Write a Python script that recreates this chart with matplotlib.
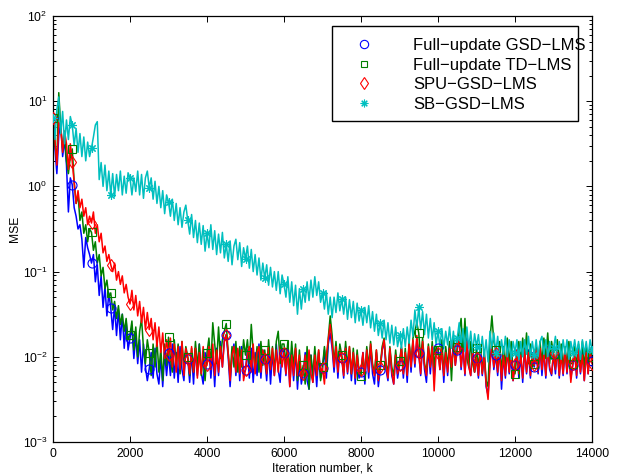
import numpy as np
import matplotlib
matplotlib.use("Agg")
import matplotlib.pyplot as plt
from matplotlib.lines import Line2D
from matplotlib.patches import Rectangle
from matplotlib.ticker import LogLocator, NullFormatter, FixedLocator

# ---------------- data (log10 of MSE, every 50 iterations) ----------------
iterations = np.arange(0, 14001, 50)

gsd_full_log10 = [
    0.80, 0.45, 0.15, 0.60, 0.75, 0.35, 0.55, 0.25, -0.30, 0.10, 0.02, -0.25, -0.35, -0.50, -0.45, -0.62, -0.95, -0.60, -0.72, -0.80,
    -0.90, -0.80, -1.12, -0.92, -1.28, -1.05, -1.42, -1.18, -1.52, -1.25, -1.43, -1.68, -1.40, -1.75, -1.45, -1.80, -1.50, -1.90, -1.58, -1.92,
    -1.78, -1.65, -2.02, -1.75, -2.08, -1.80, -2.18, -1.85, -2.12, -2.28, -2.14, -1.95, -2.25, -1.90, -2.20, -2.32, -2.00, -2.35, -1.95, -2.22,
    -1.96, -2.22, -1.85, -2.25, -1.95, -2.30, -1.88, -2.15, -2.28, -1.92, -2.02, -2.30, -1.95, -2.32, -1.90, -2.22, -1.85, -2.18, -2.32, -1.95,
    -2.08, -1.88, -2.25, -1.95, -2.35, -1.90, -2.22, -1.82, -2.12, -1.80, -1.74, -2.00, -2.35, -1.98, -1.85, -2.22, -1.92, -2.28, -1.88, -2.20,
    -2.15, -1.92, -2.25, -1.90, -2.30, -1.95, -2.22, -1.85, -2.25, -1.92, -2.02, -2.28, -1.90, -2.32, -1.95, -2.22, -1.85, -2.15, -2.30, -1.90,
    -1.95, -2.22, -1.90, -2.35, -1.95, -2.28, -1.92, -2.38, -2.02, -2.32, -2.19, -1.95, -2.28, -2.38, -1.98, -2.30, -2.02, -2.35, -1.95, -2.25,
    -2.13, -1.92, -2.25, -1.85, -1.72, -1.90, -2.18, -1.88, -2.25, -1.90, -2.01, -2.25, -1.88, -2.20, -1.92, -2.28, -1.95, -2.32, -1.98, -2.25,
    -2.18, -1.95, -2.32, -1.92, -2.25, -1.88, -2.20, -2.32, -1.95, -2.35, -2.15, -1.92, -1.82, -2.15, -2.28, -1.92, -2.22, -2.32, -1.98, -2.25,
    -2.10, -1.90, -2.25, -1.95, -2.30, -1.85, -2.18, -1.82, -2.12, -1.80, -1.96, -2.22, -1.85, -2.15, -2.30, -1.90, -2.20, -1.88, -2.25, -1.92,
    -1.90, -2.15, -1.88, -2.30, -1.92, -2.22, -1.85, -2.15, -1.82, -2.10, -1.92, -1.75, -2.15, -1.88, -2.22, -1.78, -2.10, -2.22, -1.88, -2.18,
    -2.01, -2.25, -1.90, -2.22, -1.95, -2.35, -2.45, -2.05, -1.85, -2.15, -1.98, -2.22, -1.88, -2.38, -1.98, -2.25, -1.90, -2.20, -1.92, -2.28,
    -2.10, -1.92, -2.25, -1.95, -2.30, -1.90, -2.20, -1.92, -2.25, -1.95, -2.12, -1.92, -2.20, -1.88, -2.22, -1.92, -2.25, -1.88, -2.15, -2.22,
    -1.97, -2.20, -1.88, -2.25, -1.92, -2.22, -1.90, -2.20, -1.92, -2.25, -2.10, -1.92, -2.25, -1.90, -2.20, -1.95, -2.28, -1.92, -2.20, -1.90,
    -2.05,
]

td_full_log10 = [
    0.80, 0.50, 0.30, 1.10, 0.70, 0.45, 0.60, 0.30, 0.15, 0.35, 0.44, 0.05, -0.20, -0.10, -0.40, -0.30, -0.55, -0.45, -0.65, -0.50,
    -0.54, -0.75, -0.65, -0.90, -0.80, -1.05, -0.95, -1.20, -1.10, -1.30, -1.25, -1.45, -1.35, -1.55, -1.40, -1.62, -1.50, -1.70, -1.55, -1.80,
    -1.74, -1.58, -1.92, -1.65, -2.00, -1.70, -1.55, -1.90, -2.08, -1.80, -1.95, -2.22, -1.85, -2.12, -1.80, -2.18, -1.90, -2.28, -1.85, -2.10,
    -1.77, -2.02, -2.18, -1.80, -2.08, -1.85, -2.20, -1.82, -2.12, -1.88, -2.00, -2.22, -1.90, -2.18, -1.82, -2.12, -1.85, -2.22, -1.98, -2.28,
    -1.95, -1.78, -2.12, -1.60, -1.85, -2.08, -1.65, -2.02, -1.80, -1.70, -1.61, -1.95, -2.22, -1.88, -2.12, -1.82, -2.18, -1.88, -2.12, -1.80,
    -1.98, -1.80, -2.08, -1.62, -1.95, -2.12, -1.88, -2.18, -1.82, -2.10, -1.92, -2.18, -1.80, -2.12, -1.88, -2.18, -1.82, -1.70, -2.08, -1.85,
    -1.85, -2.08, -1.82, -2.18, -1.82, -2.12, -1.85, -2.28, -1.92, -2.22, -2.10, -2.32, -1.88, -2.38, -1.98, -2.22, -1.88, -2.18, -1.92, -2.28,
    -2.12, -1.88, -2.12, -1.78, -1.52, -1.75, -2.08, -1.82, -2.12, -1.85, -1.98, -2.18, -1.82, -2.12, -1.88, -2.20, -1.90, -2.22, -1.92, -2.18,
    -2.22, -1.98, -2.22, -1.88, -2.12, -1.82, -2.08, -2.20, -1.92, -2.22, -2.10, -1.88, -1.78, -2.08, -2.18, -1.88, -2.12, -2.22, -1.92, -2.15,
    -2.05, -1.88, -2.18, -1.90, -2.20, -1.82, -2.10, -1.78, -1.70, -1.60, -1.72, -2.02, -1.78, -2.08, -2.18, -1.85, -2.10, -1.82, -2.12, -1.88,
    -1.92, -2.08, -1.80, -2.20, -1.88, -2.12, -1.82, -2.28, -1.80, -2.02, -1.88, -1.70, -1.55, -1.95, -1.55, -2.02, -2.12, -1.82, -2.08, -2.18,
    -1.90, -2.12, -1.88, -2.18, -1.92, -2.28, -2.35, -1.80, -1.52, -1.82, -1.92, -2.12, -1.82, -2.18, -1.88, -2.12, -1.78, -2.08, -1.82, -2.18,
    -2.20, -1.98, -1.82, -2.08, -1.78, -2.02, -1.72, -2.08, -1.85, -2.12, -2.08, -1.88, -2.12, -1.82, -2.08, -1.78, -2.02, -1.72, -2.08, -1.82,
    -1.97, -2.12, -1.80, -2.08, -1.85, -2.15, -1.88, -2.12, -1.82, -2.08, -2.08, -1.88, -2.12, -1.85, -2.10, -1.82, -2.12, -1.88, -2.15, -1.90,
    -2.00,
]

spu_gsd_log10 = [
    0.80, 0.55, 0.25, 0.75, 0.70, 0.40, 0.65, 0.50, 0.20, 0.50, 0.29, 0.05, -0.20, -0.05, -0.25, -0.15, -0.35, -0.25, -0.45, -0.35,
    -0.43, -0.30, -0.55, -0.45, -0.65, -0.55, -0.78, -0.70, -0.88, -0.80, -0.92, -1.00, -0.90, -1.10, -1.00, -1.15, -1.05, -1.25, -1.15, -1.30,
    -1.38, -1.22, -1.45, -1.28, -1.52, -1.35, -1.60, -1.42, -1.68, -1.48, -1.68, -1.55, -1.80, -1.60, -1.88, -1.65, -1.95, -1.72, -2.02, -1.80,
    -1.98, -1.78, -2.12, -1.85, -2.18, -1.88, -2.15, -1.82, -2.22, -1.90, -2.02, -2.20, -1.88, -2.18, -1.90, -2.25, -1.95, -2.20, -1.88, -2.12,
    -2.10, -1.88, -2.15, -1.85, -2.22, -1.92, -2.18, -1.88, -2.12, -1.82, -1.74, -1.95, -2.28, -1.98, -1.88, -2.18, -1.90, -2.20, -1.92, -2.28,
    -2.15, -1.98, -1.88, -2.18, -1.85, -2.20, -1.95, -1.88, -2.18, -1.92, -2.02, -2.20, -1.88, -2.15, -1.90, -2.22, -1.92, -2.18, -1.88, -2.12,
    -1.95, -2.20, -1.92, -2.35, -1.98, -2.22, -1.90, -2.22, -1.98, -2.25, -2.20, -1.98, -2.22, -1.92, -2.20, -2.30, -1.98, -2.22, -1.92, -2.18,
    -2.13, -2.32, -1.98, -1.80, -1.62, -1.85, -2.12, -1.88, -2.18, -1.92, -2.01, -2.22, -1.90, -2.18, -1.88, -2.20, -1.95, -2.25, -1.98, -2.20,
    -2.15, -1.95, -2.22, -1.92, -2.18, -1.85, -2.12, -2.22, -1.92, -2.28, -2.12, -1.92, -1.80, -2.10, -2.25, -1.90, -2.18, -2.32, -1.98, -2.20,
    -2.10, -1.90, -2.20, -1.95, -2.22, -1.85, -2.12, -1.80, -2.08, -1.75, -1.96, -2.20, -1.82, -2.10, -2.22, -1.88, -2.12, -1.88, -2.40, -1.95,
    -1.95, -2.15, -1.90, -2.22, -1.95, -2.18, -1.90, -2.12, -1.85, -2.10, -1.90, -1.80, -2.12, -1.90, -2.20, -1.82, -2.12, -2.22, -1.92, -2.18,
    -2.01, -2.22, -1.92, -2.20, -1.98, -2.32, -2.50, -2.10, -1.88, -2.12, -1.95, -2.18, -1.92, -2.28, -1.98, -2.22, -1.92, -2.18, -1.98, -2.28,
    -2.08, -1.92, -2.20, -1.98, -2.25, -1.92, -2.18, -1.95, -2.22, -1.98, -2.10, -1.92, -2.18, -1.90, -2.15, -1.95, -2.22, -1.90, -2.12, -2.20,
    -1.96, -2.15, -1.90, -2.22, -1.98, -2.20, -1.92, -2.18, -1.95, -2.30, -2.08, -1.95, -2.22, -1.92, -2.18, -1.98, -2.28, -1.95, -2.20, -1.92,
    -2.08,
]

sb_gsd_log10 = [
    0.80, 0.55, 0.90, 1.05, 0.62, 0.88, 0.50, 0.78, 0.55, 0.82, 0.72, 0.48, 0.68, 0.40, 0.62, 0.35, 0.58, 0.30, 0.52, 0.35,
    0.45, 0.58, 0.72, 0.76, 0.08, 0.28, 0.00, 0.25, -0.05, 0.18, -0.10, 0.15, -0.12, 0.14, -0.05, 0.18, -0.10, 0.12, -0.08, 0.16,
    0.10, -0.10, 0.10, -0.06, 0.18, -0.10, 0.14, -0.14, 0.10, 0.18, -0.02, 0.10, -0.15, 0.06, -0.20, 0.00, -0.25, -0.05, -0.32, -0.10,
    -0.18, -0.35, -0.15, -0.40, -0.20, -0.45, -0.25, -0.48, -0.30, -0.22, -0.40, -0.56, -0.33, -0.60, -0.40, -0.66, -0.43, -0.68, -0.46, -0.76,
    -0.55, -0.72, -0.45, -0.74, -0.52, -0.80, -0.56, -0.78, -0.54, -0.84, -0.68, -0.88, -0.64, -0.92, -0.70, -0.62, -0.86, -0.66, -0.94, -0.72,
    -0.85, -0.70, -0.96, -0.74, -1.00, -0.80, -1.04, -0.84, -1.10, -0.90, -1.08, -0.92, -1.16, -0.95, -1.18, -1.00, -1.22, -1.00, -1.26, -1.04,
    -1.15, -1.30, -1.06, -1.36, -1.12, -1.40, -1.16, -1.50, -1.20, -1.44, -1.20, -1.36, -1.12, -1.34, -1.10, -1.30, -1.06, -1.28, -1.12, -1.36,
    -1.25, -1.44, -1.24, -1.50, -1.30, -1.54, -1.30, -1.48, -1.25, -1.46, -1.32, -1.50, -1.30, -1.56, -1.33, -1.54, -1.35, -1.60, -1.37, -1.58,
    -1.45, -1.63, -1.42, -1.60, -1.40, -1.66, -1.47, -1.70, -1.50, -1.75, -1.60, -1.78, -1.57, -1.80, -1.60, -1.84, -1.63, -1.86, -1.65, -1.88,
    -1.75, -1.90, -1.67, -1.88, -1.65, -1.84, -1.57, -1.76, -1.45, -1.66, -1.42, -1.68, -1.47, -1.74, -1.50, -1.78, -1.55, -1.80, -1.60, -1.86,
    -1.70, -1.88, -1.67, -1.90, -1.70, -1.86, -1.65, -1.90, -1.70, -1.93, -1.78, -1.60, -1.88, -1.67, -1.94, -1.65, -1.90, -1.70, -1.95, -1.73,
    -1.88, -1.74, -1.97, -1.76, -2.00, -1.80, -2.06, -1.70, -1.90, -1.72, -1.95, -1.76, -2.00, -1.80, -1.97, -1.76, -2.00, -1.80, -2.03, -1.82,
    -1.95, -1.80, -2.03, -1.82, -2.00, -1.80, -1.97, -1.76, -2.00, -1.82, -1.98, -1.80, -2.00, -1.82, -1.76, -1.97, -1.80, -2.00, -1.82, -2.03,
    -1.90, -1.76, -2.00, -1.82, -2.03, -1.80, -1.97, -1.80, -2.03, -1.82, -1.95, -1.80, -1.97, -1.82, -2.03, -1.80, -1.97, -1.82, -2.00, -1.80,
    -1.92,
]

labels = ["Full\u2212update GSD\u2212LMS", "Full\u2212update TD\u2212LMS", "SPU\u2212GSD\u2212LMS", "SB\u2212GSD\u2212LMS"]
x_ticks = [0, 2000, 4000, 6000, 8000, 10000, 12000, 14000]

# ---------------- style ----------------
plt.rcParams['font.family'] = ['Liberation Sans', 'DejaVu Sans']
plt.rcParams['mathtext.fontset'] = 'custom'
plt.rcParams['mathtext.rm'] = 'Liberation Sans'
plt.rcParams['mathtext.it'] = 'Liberation Sans:italic'
plt.rcParams['mathtext.bf'] = 'Liberation Sans:bold'

colors = ['#0000ff', '#007f00', '#ff0000', '#00bfbf']
markers = ['o', 's', 'd', (8, 2, 0)]
msizes = [6.5, 5.5, 6.5, 6.0]
leg_sizes = [6.0, 4.5, 6.0, 5.5]

fig = plt.figure(figsize=(6.18, 4.75), dpi=100)
ax = fig.add_axes([53 / 618, 1 - 442 / 475, 539 / 618, 426 / 475])

series = [gsd_full_log10, td_full_log10, spu_gsd_log10, sb_gsd_log10]
for i, s in enumerate(series):
    y = 10.0 ** np.asarray(s)
    ax.plot(iterations, y, color=colors[i], lw=1.1, zorder=2 + i * 0.1)
for i, s in enumerate(series):
    y = 10.0 ** np.asarray(s)
    ax.plot(iterations[::10], y[::10], ls='none', marker=markers[i], ms=msizes[i],
            mfc='none', mec=colors[i], mew=0.8, zorder=3 + i * 0.1)

ax.set_yscale('log')
ax.set_xlim(0, 14000)
ax.set_ylim(1e-3, 1e2)
ax.xaxis.set_major_locator(FixedLocator(x_ticks))
ax.yaxis.set_major_locator(LogLocator(base=10, numticks=10))
ax.yaxis.set_minor_locator(LogLocator(base=10, subs=np.arange(2, 10), numticks=20))
ax.yaxis.set_minor_formatter(NullFormatter())
ax.tick_params(which='both', direction='in', top=True, right=True, labelsize=8.7, width=0.7)
ax.tick_params(which='major', length=4, pad=4)
ax.tick_params(which='minor', length=2)
for sp in ax.spines.values():
    sp.set_linewidth(0.9)

ax.set_xlabel('Iteration number, k', fontsize=8.7, labelpad=2)
ax.set_ylabel('MSE', fontsize=8.7, labelpad=1)

# legend (marker-only entries) with a MATLAB-like box
handles = [Line2D([], [], ls='none', marker=markers[i], ms=leg_sizes[i], mfc='none',
                  mec=colors[i], mew=0.8) for i in range(4)]
box = Rectangle((332 / 618, 1 - 121 / 475), 246 / 618, 95 / 475, transform=fig.transFigure,
                fc='white', ec='black', lw=1.0, zorder=5)
fig.add_artist(box)
leg = fig.legend(handles, labels, loc='upper left', bbox_to_anchor=(347.3 / 618, 1 - 38 / 475),
                 frameon=False, fontsize=12, handlelength=2.0, handletextpad=1.94,
                 labelspacing=0.28, borderpad=0, borderaxespad=0)
leg.set_zorder(6)

fig.savefig('out.png', dpi=100)
